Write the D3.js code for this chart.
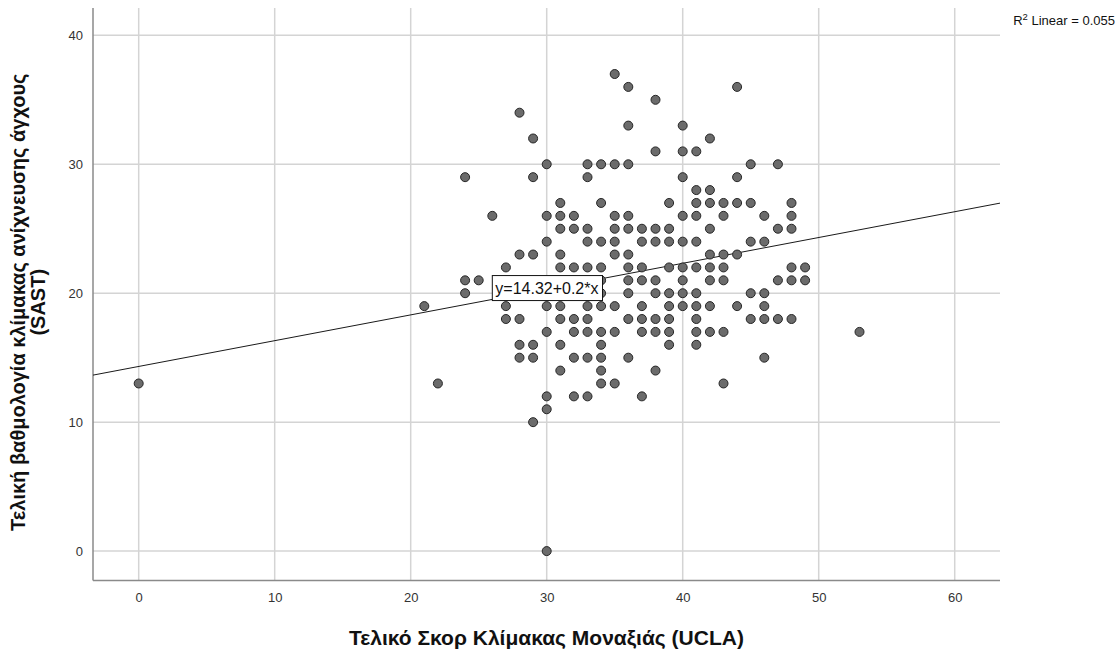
<!DOCTYPE html>
<html>
<head>
<meta charset="utf-8">
<script src="https://cdn.jsdelivr.net/npm/d3@7/dist/d3.min.js"></script>
<style>
  html, body { margin: 0; padding: 0; background: #fff; }
  svg { display: block; font-family: "Liberation Sans", Arial, sans-serif; }
</style>
</head>
<body>
<svg id="chart" width="1119" height="650"></svg>
<script>
// UCLA loneliness score (x) vs SAST anxiety score (y), one entry per respondent,
// grouped by SAST score: [sast, [ucla scores...]]
const sastRows = [
  [37, [35]],
  [36, [36, 44]],
  [35, [38]],
  [34, [28]],
  [33, [36, 40]],
  [32, [29, 42]],
  [31, [38, 40, 41]],
  [30, [30, 33, 34, 35, 36, 45, 47]],
  [29, [24, 29, 33, 40, 44]],
  [28, [41, 42]],
  [27, [31, 34, 39, 41, 42, 43, 44, 45, 48]],
  [26, [26, 30, 31, 32, 35, 36, 40, 41, 43, 46, 48]],
  [25, [31, 32, 33, 35, 36, 37, 38, 39, 42, 47, 48]],
  [24, [30, 33, 34, 35, 37, 38, 39, 40, 41, 45, 46]],
  [23, [28, 29, 31, 35, 36, 42, 43, 44]],
  [22, [27, 31, 32, 33, 34, 36, 37, 39, 40, 41, 42, 43, 48, 49]],
  [21, [24, 25, 34, 36, 37, 38, 40, 42, 43, 47, 48, 49]],
  [20, [24, 34, 36, 38, 39, 40, 41, 45, 46]],
  [19, [21, 27, 30, 31, 33, 34, 35, 37, 39, 40, 41, 42, 44, 46]],
  [18, [27, 28, 31, 32, 33, 36, 37, 38, 39, 41, 45, 46, 47, 48]],
  [17, [30, 32, 33, 34, 35, 37, 38, 39, 41, 42, 43, 53]],
  [16, [28, 29, 31, 34, 39, 41]],
  [15, [28, 29, 32, 33, 34, 36, 46]],
  [14, [31, 34, 38]],
  [13, [0, 22, 34, 35, 43]],
  [12, [30, 32, 33, 37]],
  [11, [30]],
  [10, [29]],
  [0, [30]]
];

const xTicks = [0, 10, 20, 30, 40, 50, 60];
const yTicks = [0, 10, 20, 30, 40];

// Linear fit reported for the data
const fitIntercept = 14.32;
const fitSlope = 0.2;
const fitR2 = 0.055;

const xTitle = "Τελικό Σκορ Κλίμακας Μοναξιάς (UCLA)";
const yTitleLines = ["Τελική βαθμολογία κλίμακας ανίχνευσης άγχους", "(SAST)"];

const points = [];
sastRows.forEach(([sast, uclas]) => uclas.forEach(u => points.push({ x: u, y: sast })));

const svg = d3.select("#chart");
const plot = { left: 93, right: 1000, top: 8, bottom: 580.5 };

const x = d3.scaleLinear().domain([-3.36, 63.33]).range([plot.left, plot.right]);
const y = d3.scaleLinear().domain([-2.28, 42.12]).range([plot.bottom, plot.top]);

// gridlines
const grid = svg.append("g").attr("stroke", "#d4d4d4").attr("stroke-width", 1.5);
grid.selectAll("line.vx").data(xTicks).join("line")
  .attr("x1", d => x(d)).attr("x2", d => x(d))
  .attr("y1", plot.top).attr("y2", plot.bottom);
grid.selectAll("line.hy").data(yTicks).join("line")
  .attr("x1", plot.left).attr("x2", plot.right)
  .attr("y1", d => y(d)).attr("y2", d => y(d));

// axes (lines only, labels without tick marks)
const xAxis = d3.axisBottom(x).tickValues(xTicks).tickSize(0).tickPadding(12);
const yAxis = d3.axisLeft(y).tickValues(yTicks).tickSize(0).tickPadding(10);

const gx = svg.append("g").attr("transform", `translate(0,${plot.bottom})`).call(xAxis);
const gy = svg.append("g").attr("transform", `translate(${plot.left},0)`).call(yAxis);
[gx, gy].forEach(g => {
  g.select(".domain").attr("stroke", "#8a8a8a").attr("stroke-width", 1.5);
  g.selectAll("text").attr("font-size", 13).attr("fill", "#333")
    .attr("font-family", "'Liberation Sans', Arial, sans-serif");
});
gx.select(".domain").attr("d", `M${plot.left},0H${plot.right}`);
gy.select(".domain").attr("d", `M0,${plot.top}V${plot.bottom}`);

// fit line across the plotting area
const [x0, x1] = x.domain();
svg.append("line")
  .attr("x1", x(x0)).attr("y1", y(fitIntercept + fitSlope * x0))
  .attr("x2", x(x1)).attr("y2", y(fitIntercept + fitSlope * x1))
  .attr("stroke", "#1a1a1a").attr("stroke-width", 1);

// scatter markers
svg.append("g").selectAll("circle").data(points).join("circle")
  .attr("cx", d => x(d.x)).attr("cy", d => y(d.y)).attr("r", 4.5)
  .attr("fill", "#6b6b6b").attr("stroke", "#262626").attr("stroke-width", 1);

// fit equation label
const eq = svg.append("g").attr("transform", `translate(${x(26.0)},${y(20.4)})`);
const eqText = eq.append("text").attr("x", 3).attr("y", 6)
  .attr("font-size", 16).attr("fill", "#111")
  .text(`y=${fitIntercept}+${fitSlope}*x`);
const bb = eqText.node().getBBox();
eq.insert("rect", "text")
  .attr("x", 0).attr("y", -12.5).attr("width", bb.width + 7).attr("height", 25)
  .attr("fill", "#fff").attr("stroke", "#111").attr("stroke-width", 1);

// R squared note, right-aligned near the page edge
const r2 = svg.append("text").attr("x", 1115).attr("y", 25).attr("text-anchor", "end")
  .attr("font-size", 13).attr("fill", "#111");
r2.append("tspan").text("R");
r2.append("tspan").attr("dy", -5.5).attr("font-size", 9.5).text("2");
r2.append("tspan").attr("dy", 5.5).text(` Linear = ${fitR2}`);

// axis titles
svg.append("text").attr("x", (plot.left + plot.right) / 2).attr("y", 645)
  .attr("text-anchor", "middle").attr("font-size", 21).attr("font-weight", "bold").attr("fill", "#111")
  .text(xTitle);

const yt = svg.append("text")
  .attr("transform", `translate(25,${(plot.top + plot.bottom) / 2 + 8}) rotate(-90)`)
  .attr("text-anchor", "middle").attr("font-size", 20).attr("font-weight", "bold").attr("fill", "#111");
yTitleLines.forEach((t, i) => yt.append("tspan").attr("x", 0).attr("dy", i === 0 ? 0 : 20).text(t));
</script>
</body>
</html>
